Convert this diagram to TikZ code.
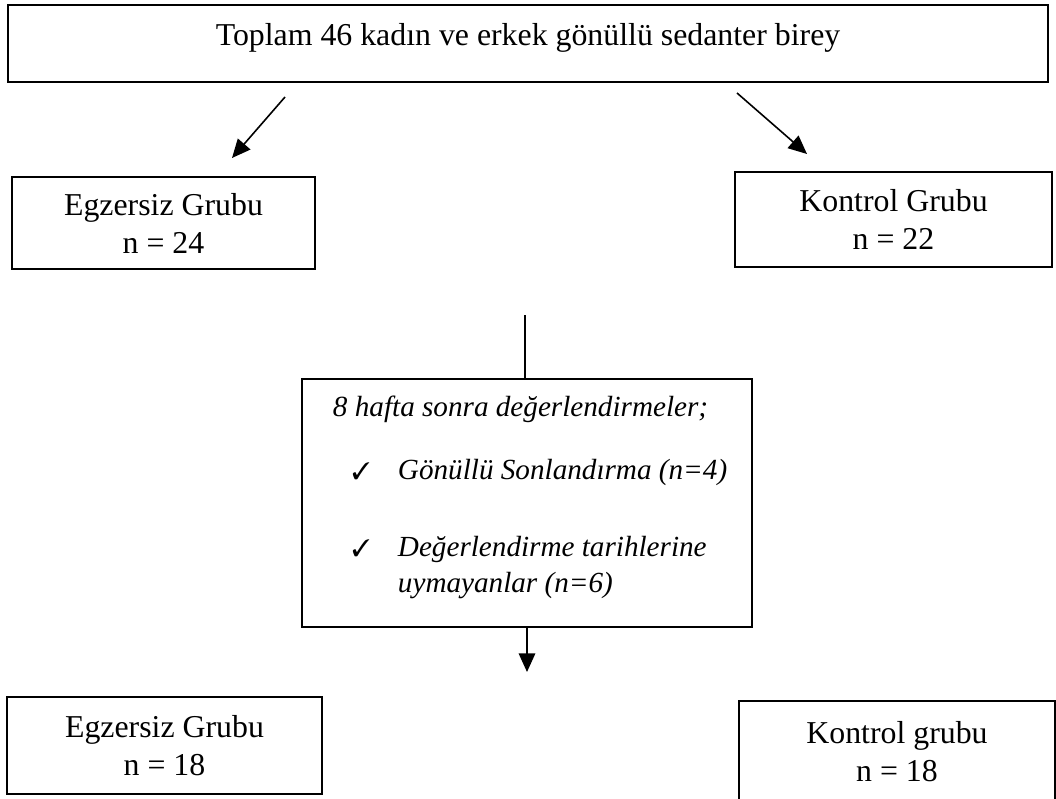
\documentclass[tikz,border=0pt]{standalone}
\usepackage{amssymb}
\usepackage{pifont}
\usepackage{fontspec}
\setmainfont{Liberation Serif}
\usepackage{tikz}
\usetikzlibrary{arrows.meta}

\begin{document}
\begin{tikzpicture}[x=0.377pt,y=-0.377pt,
        groupbox/.style={draw,line width=0.75pt,align=center,inner sep=0pt,
            font=\fontsize{12}{14.3}\selectfont},
        arr/.style={line width=0.6pt,-{Triangle[length=7pt,width=6.2pt]}}]
        \useasboundingbox (0,0) rectangle (1056,798);
        \node[groupbox,minimum width=392pt,minimum height=29pt,text depth=7pt] (all) at (528,43.5) {Toplam 46 kadın ve erkek gönüllü sedanter birey};
        \node[groupbox,minimum width=114.3pt,minimum height=34.7pt] (ex1) at (163.5,223) {Egzersiz Grubu\\n = 24};
        \node[groupbox,minimum width=119.5pt,minimum height=35.8pt] (co1) at (893.5,219.5) {Kontrol Grubu\\n = 22};
        \node[groupbox,minimum width=118.8pt,minimum height=36.6pt] (ex2) at (164.5,745.5) {Egzersiz Grubu\\n = 18};
        \node[groupbox,minimum width=119.1pt,minimum height=38pt] (co2) at (897,751.5) {Kontrol grubu\\n = 18};
        \node[draw,line width=0.75pt,inner sep=0pt] (eval) at (527,503) {%
            \begin{minipage}[c][93.5pt][t]{169.7pt}
            \setlength{\parindent}{0pt}\fontsize{11}{13.6}\selectfont\itshape
            \vspace*{6.5pt}
            \hspace*{11.7pt}8 hafta sonra değerlendirmeler;\\[10.15pt]
            \hspace*{18.9pt}\makebox[17.3pt][l]{\small\ding{51}}Gönüllü Sonlandırma (n=4)\\[15.4pt]
            \hspace*{18.9pt}\makebox[17.3pt][l]{\small\ding{51}}Değerlendirme tarihlerine\\
            \hspace*{36.2pt}uymayanlar (n=6)
            \end{minipage}};
        \coordinate (leftStart) at (285,97);
        \coordinate (leftTip) at (232,158);
        \coordinate (rightStart) at (737,93);
        \coordinate (rightTip) at (807,154);
        \coordinate (split) at (525,315);
        \coordinate (downTip) at (527,672);
        \draw[arr] (leftStart) -- (leftTip);
        \draw[arr] (rightStart) -- (rightTip);
        \draw[line width=0.6pt] (split) -- (split |- eval.north);
        \draw[arr] (eval.south) -- (downTip);
    \end{tikzpicture}
\end{document}
